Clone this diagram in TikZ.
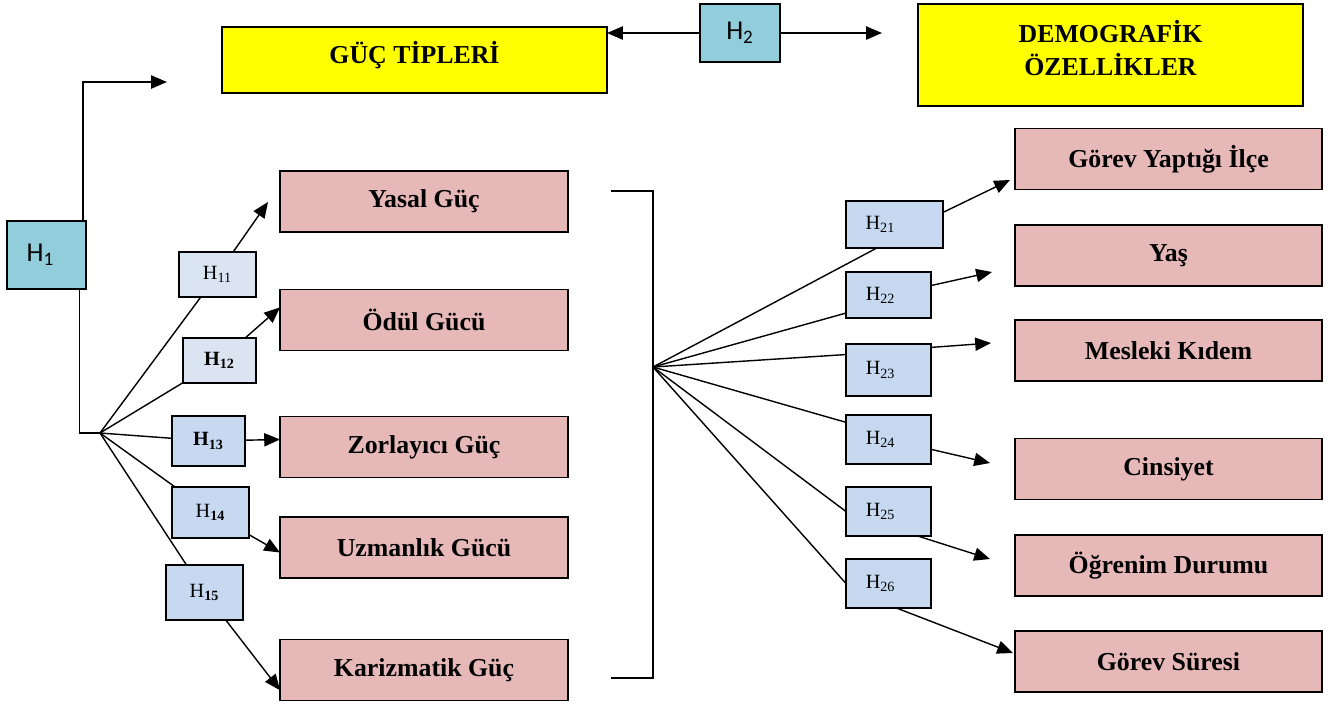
\documentclass[tikz,border=0pt]{standalone}
\usepackage{fontspec}
\setmainfont{Liberation Serif}
\newfontfamily\calfont{Carlito}
\usetikzlibrary{arrows.meta}

\definecolor{sari}{HTML}{FFFF00}
\definecolor{pembe}{HTML}{E6B9B8}
\definecolor{turkuaz}{HTML}{92CDDC}
\definecolor{acikmavi}{HTML}{DBE5F1}
\definecolor{mavi}{HTML}{C6D9F1}

\tikzset{
  kutu/.style={draw, line width=0.8pt, inner sep=0pt, outer sep=0pt, align=center},
  sarikutu/.style={kutu, fill=sari, minimum width=7.7cm},
  yazi/.style={inner sep=0pt, align=center, font=\fontsize{14.7}{18.7}\selectfont\bfseries},
  pembekutu/.style={kutu, fill=pembe, minimum height=1.22cm, font=\fontsize{14.7}{17}\selectfont\bfseries},
  anakutu/.style={kutu, fill=turkuaz, font=\calfont\fontsize{15.5}{18}\selectfont},
  hkutu/.style={kutu, fill=mavi, font=\fontsize{11.5}{13}\selectfont},
  ok/.style={line width=0.8pt, -{Triangle[length=9pt,width=7.5pt]}},
  cizgi/.style={line width=0.8pt}
}

\begin{document}
\begin{tikzpicture}[x=0.02cm, y=-0.02cm]
  \useasboundingbox (0,0) rectangle (1344,704);

  % ust kutular
  \node (guc) at (414.5,60) [sarikutu, minimum height=1.32cm] {};
  \node (gucyazi) at (414.5,55) [yazi] {GÜÇ TİPLERİ};
  \node (demo) at (1110.5,55) [sarikutu, minimum height=2.04cm] {};
  \node (demoyazi) at (1110.5,48) [yazi] {DEMOGRAFİK\\ÖZELLİKLER};
  \node (h2) at (740,33) [anakutu, minimum width=1.6cm, minimum height=1.16cm] {H\textsubscript{2}};
  \node (h1) at (46.5,255) [anakutu, minimum width=1.58cm, minimum height=1.36cm] {\hspace{-7pt}H\textsubscript{1}};

  % guc tipleri
  \node (yasal) at (424,201.5) [pembekutu, minimum width=5.76cm] {Yasal Güç};
  \node (odul) at (424,320) [pembekutu, minimum width=5.76cm] {Ödül Gücü};
  \node (zor) at (424,447) [pembekutu, minimum width=5.76cm] {Zorlayıcı Güç};
  \node (uzm) at (424,547.5) [pembekutu, minimum width=5.76cm] {Uzmanlık Gücü};
  \node (kar) at (424,670) [pembekutu, minimum width=5.76cm] {Karizmatik Güç};

  % demografik ozellikler
  \node (ilce) at (1168.5,159) [pembekutu, minimum width=6.14cm] {Görev Yaptığı İlçe};
  \node (yas) at (1168.5,255.5) [pembekutu, minimum width=6.14cm] {Yaş};
  \node (kidem) at (1168.5,350.5) [pembekutu, minimum width=6.14cm] {Mesleki Kıdem};
  \node (cins) at (1168.5,469) [pembekutu, minimum width=6.14cm] {Cinsiyet};
  \node (ogren) at (1168.5,565.5) [pembekutu, minimum width=6.14cm] {Öğrenim Durumu};
  \node (sure) at (1168.5,661.5) [pembekutu, minimum width=6.14cm] {Görev Süresi};

  % H1 alt hipotezleri
  \node (h11) at (217.5,274.5) [hkutu, fill=acikmavi, minimum width=1.54cm, minimum height=0.9cm] {H\textsubscript{11}};
  \node (h12) at (219.5,360.5) [hkutu, fill=acikmavi, minimum width=1.46cm, minimum height=0.9cm] {\bfseries H\textsubscript{12}};
  \node (h13) at (208.5,441) [hkutu, minimum width=1.46cm, minimum height=1cm] {\bfseries H\textsubscript{13}};
  \node (h14) at (210.5,512.5) [hkutu, minimum width=1.54cm, minimum height=1.02cm] {H\textsubscript{\bfseries 14}};
  \node (h15) at (204.5,592.5) [hkutu, minimum width=1.54cm, minimum height=1.1cm] {H\textsubscript{\bfseries 15}};

  % H2 alt hipotezleri
  \node (h21) at (894.5,224.5) [hkutu, minimum width=1.94cm, minimum height=0.94cm] {\hspace{-16pt}H\textsubscript{21}};
  \node (h22) at (888.5,295) [hkutu, minimum width=1.7cm, minimum height=0.92cm] {\hspace{-9pt}H\textsubscript{22}};
  \node (h23) at (888.5,370) [hkutu, minimum width=1.7cm, minimum height=1.04cm] {\hspace{-9pt}H\textsubscript{23}};
  \node (h24) at (888.5,439.5) [hkutu, minimum width=1.7cm, minimum height=0.98cm] {\hspace{-9pt}H\textsubscript{24}};
  \node (h25) at (888.5,511.5) [hkutu, minimum width=1.7cm, minimum height=0.98cm] {\hspace{-9pt}H\textsubscript{25}};
  \node (h26) at (888.5,583.5) [hkutu, minimum width=1.7cm, minimum height=0.98cm] {\hspace{-9pt}H\textsubscript{26}};

  % serbest uclar
  \coordinate (t1) at (167,82);
  \coordinate (t2) at (882,33);
  \coordinate (sol) at (100,433);
  \coordinate (sag) at (653,367);
  \coordinate (par1) at (611,191);
  \coordinate (par2) at (611,678);
  \coordinate (t11) at (268,202);
  \coordinate (t21) at (1010,180);
  \coordinate (t22) at (992,272);
  \coordinate (t23) at (991,343);
  \coordinate (t24) at (990,463);
  \coordinate (t25) at (990,559);
  \coordinate (t26) at (1013,653);

  % baglantilar
  \draw[ok] (h2.west) -- (h2.west -| guc.east);
  \draw[ok] (h2.east) -- (t2);
  \draw[ok] (h1.43) |- (t1);
  \draw[cizgi] (h1.-46) |- (sol);

  \draw[cizgi] (sol) -- (h11);
  \draw[cizgi] (sol) -- (h12);
  \draw[cizgi] (sol) -- (h13);
  \draw[cizgi] (sol) -- (h14);
  \draw[cizgi] (sol) -- (h15);
  \draw[ok] (h11) -- (t11);
  \draw[ok] (h12) -- (odul.175);
  \draw[ok] (h13) -- (zor.177);
  \draw[ok] (h14) -- (uzm.182);
  \draw[ok] (h15) -- (kar.188);

  \draw[cizgi] (par1) -| (sag) |- (par2);
  \draw[cizgi] (sag) -- (h21.233);
  \draw[cizgi] (sag) -- (h22.203);
  \draw[cizgi] (sag) -- (h23.160);
  \draw[cizgi] (sag) -- (h24.158);
  \draw[cizgi] (sag) -- (h25.west);
  \draw[cizgi] (sag) -- (h26.west);
  \draw[ok] (h21.14) -- (t21);
  \draw[ok] (h22) -- (t22);
  \draw[ok] (h23.28) -- (t23);
  \draw[ok] (h24) -- (t24);
  \draw[ok] (h25.-40) -- (t25);
  \draw[ok] (h26.-72) -- (t26);
\end{tikzpicture}
\end{document}
